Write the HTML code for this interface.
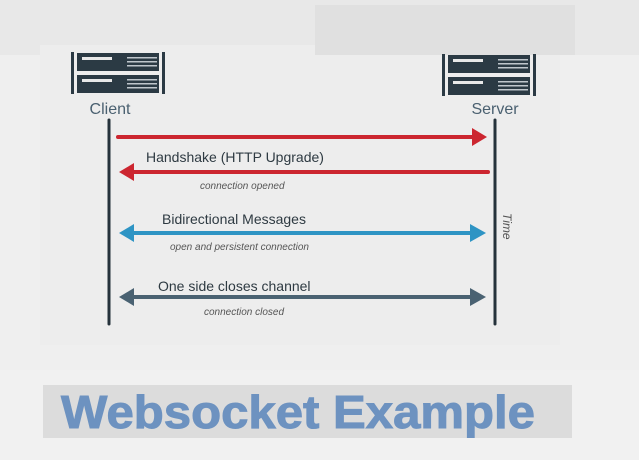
<!DOCTYPE html>
<html><head><style>
html,body{margin:0;padding:0;background:#efefef;}
</style></head><body>
<svg width="639" height="460" viewBox="0 0 639 460" xmlns="http://www.w3.org/2000/svg" style="display:block">
<rect width="639" height="460" fill="#efefef"/>
<rect x="0" y="0" width="639" height="55" fill="#e8e8e8"/>
<rect x="40" y="45" width="520" height="300" fill="#ededed"/>
<rect x="315" y="5" width="260" height="50" fill="#e0e0e0"/>
<defs>
<g id="srv">
<rect x="0" y="0" width="3" height="42" fill="#2b3a44"/>
<rect x="91" y="0" width="3" height="42" fill="#2b3a44"/>
<rect x="6" y="1" width="82" height="18" fill="#2b3a44"/>
<rect x="6" y="23" width="82" height="18" fill="#2b3a44"/>
<rect x="11" y="5" width="30" height="3" fill="#e8e8e8"/>
<rect x="11" y="27" width="30" height="3" fill="#e8e8e8"/>
<g fill="#bfc6cc"><rect x="56" y="5" width="30" height="1.5"/><rect x="56" y="9" width="30" height="1.5"/><rect x="56" y="13" width="30" height="1.5"/>
<rect x="56" y="27" width="30" height="1.5"/><rect x="56" y="31" width="30" height="1.5"/><rect x="56" y="35" width="30" height="1.5"/></g>
</g>
</defs>
<use href="#srv" x="71" y="52"/>
<use href="#srv" x="442" y="54"/>
<g font-family="Liberation Sans, sans-serif" fill="#4a6070" font-size="16">
<text x="110" y="114" text-anchor="middle">Client</text>
<text x="495" y="114" text-anchor="middle">Server</text>
</g>
<line x1="109" y1="120" x2="109" y2="324" stroke="#25323b" stroke-width="3" stroke-linecap="round"/>
<line x1="495" y1="120" x2="495" y2="324" stroke="#25323b" stroke-width="3" stroke-linecap="round"/>
<line x1="118" y1="137" x2="474" y2="137" stroke="#cc2630" stroke-width="4" stroke-linecap="round"/>
<polygon points="472,128 487,137 472,146" fill="#cc2630"/>
<line x1="132" y1="172" x2="488" y2="172" stroke="#cc2630" stroke-width="4" stroke-linecap="round"/>
<polygon points="134,163 119,172 134,181" fill="#cc2630"/>
<line x1="130" y1="233" x2="474" y2="233" stroke="#2e94c4" stroke-width="4"/>
<polygon points="134,224 119,233 134,242" fill="#2e94c4"/>
<polygon points="470,224 486,233 470,242" fill="#2e94c4"/>
<line x1="130" y1="297" x2="474" y2="297" stroke="#4a6272" stroke-width="4"/>
<polygon points="134,288 119,297 134,306" fill="#4a6272"/>
<polygon points="470,288 486,297 470,306" fill="#4a6272"/>
<g font-family="Liberation Sans, sans-serif" fill="#2e3a42" font-size="14">
<text x="146" y="162">Handshake (HTTP Upgrade)</text>
<text x="162" y="224">Bidirectional Messages</text>
<text x="158" y="291">One side closes channel</text>
</g>
<g font-family="Liberation Sans, sans-serif" fill="#555" font-size="10" font-style="italic">
<text x="200" y="189">connection opened</text>
<text x="170" y="250">open and persistent connection</text>
<text x="204" y="315">connection closed</text>
<text transform="translate(503,213) rotate(90)" font-size="12">Time</text>
</g>
<rect x="0" y="370" width="639" height="90" fill="#f1f1f1"/>
<rect x="43" y="385" width="529" height="53" fill="#dcdcdc"/>
<text x="61" y="428" font-family="Liberation Sans, sans-serif" font-weight="bold" font-size="46" fill="#6d92c0" stroke="#6d92c0" stroke-width="1" textLength="474" lengthAdjust="spacingAndGlyphs">Websocket Example</text>
</svg>
</body></html>
